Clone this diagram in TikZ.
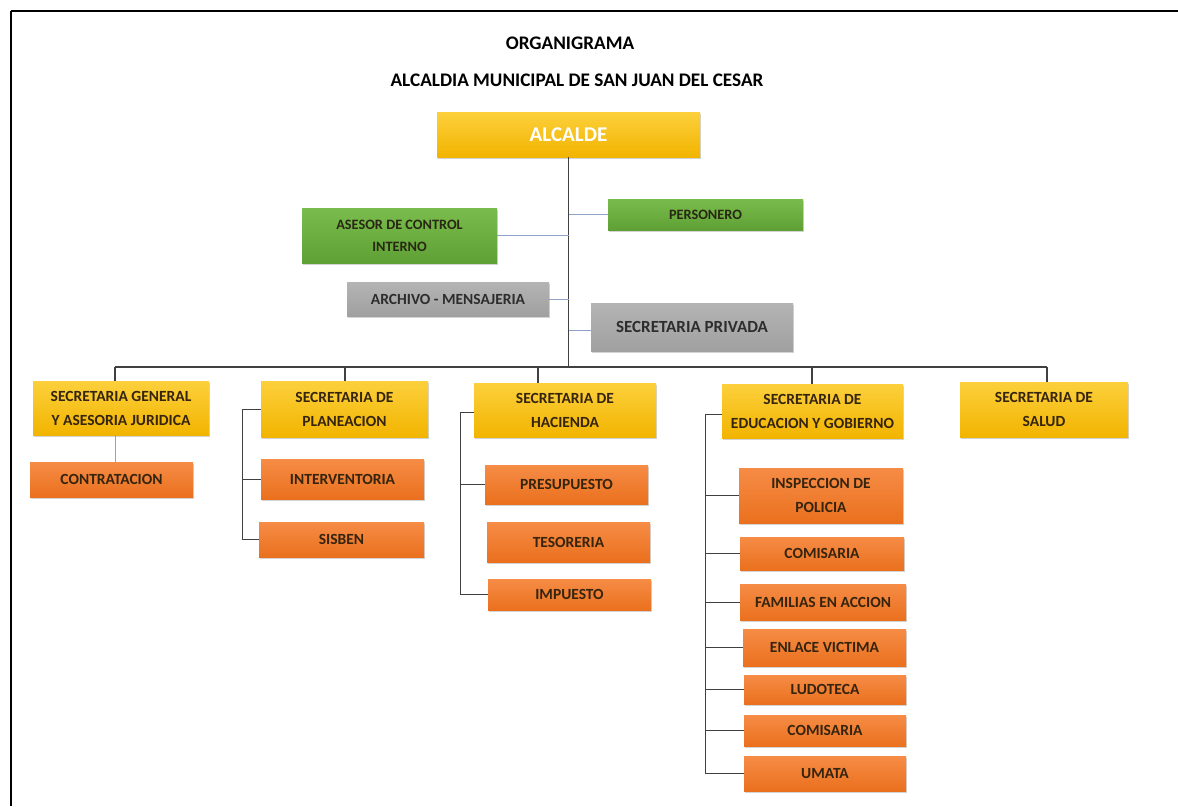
\documentclass[tikz,border=0pt]{standalone}
\usepackage{fontspec}
\setmainfont{Carlito}
\usetikzlibrary{shadows}
\definecolor{txtd}{HTML}{35240E}
\definecolor{linec}{HTML}{404040}
\definecolor{bluel}{HTML}{8FA2C8}
\tikzset{
  box/.style={rectangle, inner sep=0pt, align=center, text=txtd,
    drop shadow={opacity=0.35, shadow xshift=1.2pt, shadow yshift=-2pt},
    font={\bfseries\fontsize{15.5}{24}\selectfont}},
  yel/.style={box, top color={rgb,255:red,252;green,208;blue,60}, bottom color={rgb,255:red,242;green,180;blue,0}},
  org/.style={box, top color={rgb,255:red,246;green,140;blue,70}, bottom color={rgb,255:red,234;green,112;blue,30}},
  grn/.style={box, top color={rgb,255:red,122;green,188;blue,76}, bottom color={rgb,255:red,94;green,160;blue,52}, text={rgb,255:red,40;green,40;blue,20}, font={\bfseries\fontsize{14.3}{22}\selectfont}},
  gry/.style={box, top color={rgb,255:red,180;green,180;blue,180}, bottom color={rgb,255:red,160;green,160;blue,160}, text={rgb,255:red,45;green,45;blue,45}},
  trunk/.style={draw=linec, line width=1.3pt},
  side/.style={draw=bluel, line width=1pt},
  titletxt/.style={font={\bfseries\fontsize{19.2}{22}\selectfont}, text=black, inner sep=0pt}
}
\begin{document}
\begin{tikzpicture}[x=1pt,y=-1pt]
\useasboundingbox (0,0) rectangle (1178,806);
% frame
\draw[line width=2.5pt] (11,11) -- (1178,11);
\draw[line width=2.5pt] (11,11) -- (11,806);
% titles
\node[titletxt] (t1) at (570,43) {ORGANIGRAMA};
\node[titletxt] (t2) at (577,80) {ALCALDIA MUNICIPAL DE SAN JUAN DEL CESAR};
% top
\node[yel, minimum width=263pt, minimum height=45pt, text=white, font={\bfseries\fontsize{21}{24}\selectfont}] (ALC) at (568.5,134.5) {ALCALDE};
\node[grn, minimum width=195pt, minimum height=31pt] (PER) at (705.5,214.5) {PERSONERO};
\node[grn, minimum width=195pt, minimum height=55pt] (ASE) at (399.5,235.5) {ASESOR DE CONTROL\\INTERNO};
\node[gry, minimum width=202pt, minimum height=34pt] (ARC) at (448,299) {ARCHIVO - MENSAJERIA};
\node[gry, minimum width=202pt, minimum height=48pt, font={\bfseries\fontsize{17}{24}\selectfont}] (PRI) at (692,327) {SECRETARIA PRIVADA};
% secretarias
\node[yel, minimum width=176pt, minimum height=54pt] (SG) at (121,408) {SECRETARIA GENERAL\\Y ASESORIA JURIDICA};
\node[yel, minimum width=167pt, minimum height=56pt] (SP) at (344.5,409) {SECRETARIA DE\\PLANEACION};
\node[yel, minimum width=182pt, minimum height=54pt] (SH) at (565,410) {SECRETARIA DE\\HACIENDA};
\node[yel, minimum width=181pt, minimum height=54pt] (SE) at (812.5,411) {SECRETARIA DE\\EDUCACION Y GOBIERNO};
\node[yel, minimum width=168pt, minimum height=55pt] (SS) at (1044,409.5) {SECRETARIA DE\\SALUD};
% dependencies
\node[org, minimum width=163pt, minimum height=35pt] (CON) at (111.5,479.5) {CONTRATACION};
\node[org, minimum width=163pt, minimum height=40pt] (INT) at (342.5,479) {INTERVENTORIA};
\node[org, minimum width=165pt, minimum height=35pt] (SIS) at (341.5,539.5) {SISBEN};
\node[org, minimum width=163pt, minimum height=39pt] (PRE) at (566.5,484.5) {PRESUPUESTO};
\node[org, minimum width=163pt, minimum height=40pt] (TES) at (568.5,542) {TESORERIA};
\node[org, minimum width=163pt, minimum height=31pt] (IMP) at (569.5,594.5) {IMPUESTO};
\node[org, minimum width=164pt, minimum height=55pt] (INS) at (821,495.5) {INSPECCION DE\\POLICIA};
\node[org, minimum width=164pt, minimum height=33pt] (COM1) at (822,553.5) {COMISARIA};
\node[org, minimum width=166pt, minimum height=36pt] (FAM) at (823,602) {FAMILIAS EN ACCION};
\node[org, minimum width=163pt, minimum height=37pt] (ENL) at (824.5,647.5) {ENLACE VICTIMA};
\node[org, minimum width=162pt, minimum height=29pt] (LUD) at (825,689.5) {LUDOTECA};
\node[org, minimum width=162pt, minimum height=31pt] (COM2) at (825,730.5) {COMISARIA};
\node[org, minimum width=162pt, minimum height=35pt] (UMA) at (825,773.5) {UMATA};
% bus coordinates
\coordinate (d1) at (115,367);
\coordinate (d2) at (345,367);
\coordinate (d3) at (538,367);
\coordinate (d4) at (812,367);
\coordinate (d5) at (1047,367);
\coordinate (bp) at (242,0);
\coordinate (bh) at (460,0);
\coordinate (be) at (705,0);
% trunk
\draw[trunk] (ALC.south) -- (ALC.south |- d1);
\draw[trunk] (d1) -- (d5);
\draw[trunk] (d1) -- (d1 |- SG.north);
\draw[trunk] (d2) -- (d2 |- SP.north);
\draw[trunk] (d3) -- (d3 |- SH.north);
\draw[trunk] (d4) -- (d4 |- SE.north);
\draw[trunk] (d5) -- (d5 |- SS.north);
% side connectors
\draw[side] (ALC.south |- PER.west) -- (PER.west);
\draw[side] (ASE.east) -- (ASE.east -| ALC.south);
\draw[side] (ARC.east) -- (ARC.east -| ALC.south);
\draw[side] ([yshift=-3pt]PRI.west -| ALC.south) -- ([yshift=-3pt]PRI.west);
\draw[side] (d1 |- SG.south) -- (d1 |- CON.north);
% planeacion bracket
\draw[trunk, line width=1pt] (SP.west) -- (SP.west -| bp) -- (SIS.west -| bp) -- (SIS.west);
\draw[trunk, line width=1pt] (INT.west -| bp) -- (INT.west);
% hacienda bracket
\draw[trunk, line width=1pt] ([yshift=-2pt]SH.west) -- ([yshift=-2pt]SH.west -| bh) -- (IMP.west -| bh) -- (IMP.west);
\draw[trunk, line width=1pt] (PRE.west -| bh) -- (PRE.west);
% educacion bracket
\draw[trunk, line width=1pt] ([yshift=-3pt]SE.west) -- ([yshift=-3pt]SE.west -| be) -- (UMA.west -| be) -- (UMA.west);
\foreach \n in {INS,COM1,FAM,ENL,LUD,COM2}
  \draw[trunk, line width=1pt] (\n.west -| be) -- (\n.west);
\end{tikzpicture}
\end{document}
